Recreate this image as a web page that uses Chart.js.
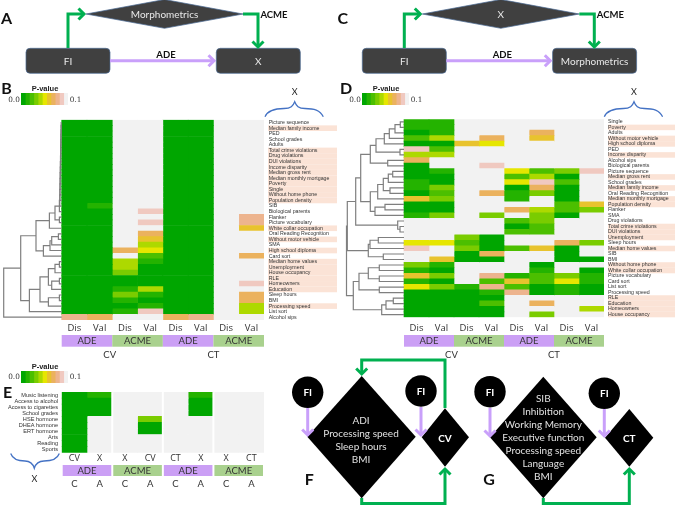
<!DOCTYPE html>
<html>
<head>
<meta charset="utf-8">
<script src="https://cdn.jsdelivr.net/npm/chart.js@4"></script>
<style>
  html, body { margin: 0; background: #fff; overflow: hidden; }
  #page { position: relative; width: 675px; height: 506px; filter: blur(0.3px); }
  canvas, svg { position: absolute; }
  text { font-family: Lato, sans-serif; }
</style>
</head>
<body>
<div id="page">
  <svg id="schema" width="675" height="506" style="left:0;top:0"></svg>
  <canvas id="heatB" width="337" height="250" style="left:0;top:112px"></canvas>
  <canvas id="heatD" width="335" height="250" style="left:340px;top:112px"></canvas>
  <canvas id="heatE" width="270" height="105" style="left:0;top:385px"></canvas>
  <canvas id="legendB" width="47" height="12" style="left:21px;top:93px"></canvas>
  <canvas id="legendD" width="47" height="12" style="left:362px;top:93px"></canvas>
  <canvas id="legendE" width="47" height="12" style="left:21px;top:371px"></canvas>
</div>
<script>
// terrain palette, index = P-value x 100 (10 = not significant)
const terrain = ['#00A600', '#24B300', '#4CBF00', '#7ACC00', '#ADD900', '#E6E600',
                 '#E8C32E', '#EBB25E', '#EDB48E', '#F0C9C0', '#F2F2F2'];
const peach = '#FBE3D6';

const stripLabels = ['ADE', 'ACME', 'ADE', 'ACME'];
const columnsBD = ['Dis', 'Val', 'Dis', 'Val', 'Dis', 'Val', 'Dis', 'Val'];
const columnsE = ['CV', 'X', 'X', 'CV', 'CT', 'X', 'X', 'CT'];
const underBD = [['CV', 1.9], ['CT', 6]];
const underE = [['C', .5], ['A', 1.5], ['C', 2.5], ['A', 3.5], ['C', 4.5], ['A', 5.5], ['C', 6.5], ['A', 7.5]];

// panel B
const rowsB = ['Picture sequence', 'Median family income', 'PED', 'School grades', 'Adults',
  'Total crime violations', 'Drug violations', 'DUI violations', 'Income disparity', 'Median gross rent',
  'Median monthly mortgage', 'Poverty', 'Single', 'Without home phone', 'Population density', 'SIB',
  'Biological parents', 'Flanker', 'Picture vocabulary', 'White collar occupation',
  'Oral Reading Recognition', 'Without motor vehicle', 'SMA', 'High school diploma', 'Card sort',
  'Median home values', 'Unemployment', 'House occupancy', 'RLE', 'Homeowners', 'Education',
  'Sleep hours', 'BMI', 'Processing speed', 'List sort', 'Alcohol sips'];
const pB = [
  [0,0,10,10,0,0,10,10], [0,0,10,10,0,0,10,10], [0,0,10,10,0,0,10,10], [0,0,10,10,0,0,10,10],
  [0,0,10,10,0,0,10,10], [0,0,10,10,0,0,10,10], [0,0,10,10,0,0,10,10], [0,0,10,10,0,0,10,10],
  [0,0,10,10,0,0,10,10], [0,0,10,10,0,0,10,10], [0,0,10,10,0,0,10,10], [0,0,10,10,0,0,10,10],
  [0,0,10,10,0,0,10,10], [0,0,10,10,0,0,10,10], [0,0,10,10,0,0,10,10], [0,1,10,10,0,0,10,10],
  [0,0,10,9,0,0,10,10], [0,0,10,10,0,0,10,8], [0,0,10,9,0,0,10,8], [0,0,10,10,0,0,10,6],
  [0,0,10,7,0,0,10,10], [0,0,10,6,0,0,10,10], [0,0,10,4,0,0,10,10], [0,0,7,5,0,0,10,10],
  [0,0,10,2,0,0,10,7], [0,0,4,1,0,0,10,10], [0,0,4,0,0,0,10,10], [0,0,3,0,0,0,10,10],
  [0,0,0,0,0,0,10,10], [0,0,0,0,0,0,10,9], [0,0,1,4,0,0,10,10], [0,0,3,1,0,0,10,7],
  [0,0,1,0,0,0,10,7], [0,0,0,1,0,0,10,4], [0,0,1,9,0,0,10,4], [8,7,10,10,7,8,10,10]];
const shadedB = ['Median family income', 'Total crime violations', 'Drug violations', 'DUI violations',
  'Income disparity', 'Median gross rent', 'Median monthly mortgage', 'Poverty', 'Single',
  'Without home phone', 'Population density', 'White collar occupation', 'Without motor vehicle',
  'High school diploma', 'Median home values', 'Unemployment', 'House occupancy', 'RLE', 'Homeowners',
  'Education', 'Processing speed'];
// [merge distance, child, child]; a number is a row index
const treeB = [58,
  [41,
    [25.7,
      [12.3,
        [6.7,
          [2.3, [1.9, [1.8, [1.7, [1.6, [1.5, [1.4, [1.3, [1.2, [1.1, [1, [.9, [.8, [.7, [.6, [.5, 0, 1], 2], 3], 4], 5], 6], 7], 8], 9], 10], 11], 12], 13], 14], 15], 16],
          [2.3, 17, 18]],
        19],
      [18.3, [11.7, [10, [3.3, 20, 21], 22], 23], 24]],
    [32.3,
      [21.7,
        [13.3,
          [6.7, [2.3, 25, 26], 27],
          [10, [2.3, 28, 29], 30]],
        [13.3, [2.3, 31, 32], 33]],
      34]],
  35];

// panel D
const rowsD = ['Single', 'Poverty', 'Adults', 'Without motor vehicle', 'High school diploma', 'PED',
  'Income disparity', 'Alcohol sips', 'Biological parents', 'Picture sequence', 'Median gross rent',
  'School grades', 'Median family income', 'Oral Reading Recognition', 'Median monthly mortgage',
  'Population density', 'Flanker', 'SMA', 'Drug violations', 'Total crime violations', 'DUI violations',
  'Unemployment', 'Sleep hours', 'Median home values', 'SIB', 'BMI', 'Without home phone',
  'White collar occupation', 'Picture vocabulary', 'Card sort', 'List sort', 'Processing speed', 'RLE',
  'Education', 'Homeowners', 'House occupancy'];
const pD = [
  [1,1,10,10,10,10,10,10], [1,1,10,10,10,10,10,10], [0,1,10,10,10,7,10,10], [2,4,10,7,10,6,10,10],
  [0,0,6,5,10,10,10,10], [9,2,10,10,10,10,10,10], [4,4,10,10,10,10,10,10], [7,10,10,10,10,10,10,10],
  [0,10,10,9,10,10,10,10], [0,1,10,10,5,2,3,9], [0,0,10,10,2,4,0,10], [1,0,10,10,5,9,2,10],
  [1,3,10,10,0,7,0,10], [0,2,10,7,1,3,0,10], [6,3,10,10,1,10,0,10], [0,0,10,10,10,10,2,6],
  [0,0,10,10,7,4,2,3], [1,3,10,3,10,3,0,10], [10,10,10,10,2,3,10,10], [10,10,10,10,0,2,10,10],
  [10,10,10,10,2,2,10,10], [10,10,3,0,10,10,10,10], [5,5,2,0,10,10,7,3], [9,10,3,0,2,6,0,10],
  [10,10,0,7,10,10,0,10], [10,6,0,0,10,10,0,0], [3,1,10,10,10,0,10,10], [1,0,10,10,10,1,10,0],
  [6,3,10,8,1,2,3,1], [1,0,10,2,6,2,5,1], [5,3,1,8,2,0,1,0], [0,0,0,1,8,0,1,0],
  [0,0,0,0,10,10,10,10], [0,0,0,2,10,7,10,10], [0,0,0,0,10,10,10,4], [0,0,0,0,10,3,10,10]];
const shadedD = ['Poverty', 'Without motor vehicle', 'High school diploma', 'Income disparity',
  'Median gross rent', 'Median family income', 'Median monthly mortgage', 'Population density',
  'Total crime violations', 'DUI violations', 'Unemployment', 'Median home values', 'Without home phone',
  'White collar occupation', 'RLE', 'Education', 'Homeowners', 'House occupancy'];
const treeD = [57.5,
  [56.7,
    [48.3,
      [43.3,
        [33.7,
          [28, [19.7, [14.7, [9, [3.7, 0, 1], 2], 3], 4], [4, 5, 6]],
          [16.3, 7, 8]],
        [33.7,
          [26.3, [20.7, [15.7, [11.3, 9, 10], 11], [14, 12, 13]], 14],
          [29, [19, 15, 16], 17]]],
      [6.3, 18, [4, 19, 20]]],
    [35.7, [34, [25.7, 21, 22], 23], [20.7, 24, 25]]],
  [50.7,
    [45, [35.7, [24.7, 26, 27], [24.7, 28, 29]], [24.7, 30, 31]],
    [22.3, [18, [10.7, 32, 33], 34], 35]]];

// panel E
const rowsE = ['Music listening', 'Access to alcohol', 'Access to cigarettes', 'School grades', 'HSE hormone',
  'DHEA hormone', 'ERT hormone', 'Arts', 'Reading', 'Sports'];
const pE = [
  [0,1,10,10,10,1,10,10], [0,0,10,10,10,0,10,10], [0,0,10,10,10,0,10,10], [0,0,10,10,10,0,10,10],
  [0,10,10,3,10,10,10,10], [0,10,10,0,10,10,10,10], [0,10,10,0,10,10,10,10], [0,10,10,10,10,10,10,10],
  [0,10,10,10,10,10,10,10], [0,10,10,10,10,10,10,10]];

function drawTree(chart, node, colW) {
  const ctx = chart.ctx, x = chart.scales.x, y = chart.scales.y;
  if (typeof node === 'number') return { x: x.getPixelForValue(0), y: y.getPixelForValue(node) };
  const a = drawTree(chart, node[1], colW), b = drawTree(chart, node[2], colW);
  const px = x.getPixelForValue(-node[0] / colW), py = (a.y + b.y) / 2;
  ctx.beginPath();
  ctx.moveTo(a.x, a.y);
  ctx.lineTo(px, a.y);
  ctx.lineTo(px, b.y);
  ctx.lineTo(b.x, b.y);
  ctx.stroke();
  return { x: px, y: py };
}

function heatmap(id, o) {
  const canvas = document.getElementById(id);
  const plotW = canvas.width - o.axisW - (o.padRight || 0);
  const colW = (plotW - o.treeW) / 8;
  const rowH = o.plotH / o.rows.length;
  const extras = {
    id: 'extras',
    beforeDraw(chart) {
      const ctx = chart.ctx, x = chart.scales.x, y = chart.scales.y;
      ctx.save();
      ctx.fillStyle = peach;
      (o.shaded || []).forEach(name => {
        const c = y.getPixelForValue(o.rows.indexOf(name));
        ctx.fillRect(x.right + 4, c - rowH / 2, canvas.width - x.right - 4, rowH);
      });
      ctx.restore();
    },
    afterDatasetsDraw(chart) {
      const ctx = chart.ctx, x = chart.scales.x;
      ctx.save();
      if (o.gap) {
        ctx.fillStyle = '#fff';
        [2, 4, 6].forEach(v => ctx.fillRect(x.getPixelForValue(v) - o.gap / 2, chart.chartArea.top, o.gap, o.plotH));
      }
      if (o.tree) {
        ctx.strokeStyle = '#7f7f7f';
        ctx.lineWidth = 1.2;
        drawTree(chart, o.tree, colW);
      }
      stripLabels.forEach((t, i) => {
        const l = x.getPixelForValue(i * 2), r = x.getPixelForValue(i * 2 + 2);
        ctx.fillStyle = t === 'ADE' ? '#CB9FF5' : '#A9D18E';
        ctx.fillRect(l + (o.gap ? 1 : 0), o.stripY, r - l - (o.gap ? 2 : 0), o.stripH);
        ctx.fillStyle = '#333';
        ctx.font = '9.5px Lato';
        ctx.textAlign = 'center';
        ctx.textBaseline = 'middle';
        ctx.fillText(t, (l + r) / 2, o.stripY + o.stripH / 2);
      });
      ctx.font = '9.5px Lato';
      o.under.forEach(u => ctx.fillText(u[0], x.getPixelForValue(u[1]), o.underY));
      ctx.restore();
    }
  };
  return new Chart(canvas, {
    type: 'bar',
    data: {
      labels: o.rows,
      datasets: o.columns.map((c, j) => ({
        label: c + ' ' + j,
        data: o.rows.map(() => 1),
        backgroundColor: o.p.map(row => terrain[row[j]]),
        barPercentage: 1,
        categoryPercentage: 1
      }))
    },
    options: {
      indexAxis: 'y',
      responsive: false,
      animation: false,
      layout: { padding: { top: o.plotTop, right: o.padRight || 0 } },
      plugins: { legend: { display: false }, tooltip: { enabled: false } },
      scales: {
        x: {
          type: 'linear',
          stacked: true,
          min: -o.treeW / colW,
          max: 8,
          grid: { display: false, drawTicks: false },
          border: { display: false },
          afterBuildTicks(s) { s.ticks = o.columns.map((c, j) => ({ value: j + .5 })); },
          afterFit(s) { s.height = canvas.height - o.plotTop - o.plotH; },
          ticks: {
            autoSkip: false,
            maxRotation: 0,
            padding: o.tickPad,
            color: '#333',
            font: { family: 'Open Sans', size: o.tickSize },
            callback: (v) => o.columns[Math.floor(v)]
          }
        },
        y: {
          type: 'category',
          stacked: true,
          position: o.axisPos,
          grid: { display: false, drawTicks: false },
          border: { display: false },
          afterFit(s) { s.width = o.axisW; },
          ticks: {
            autoSkip: false,
            padding: o.labelPad,
            color: '#333',
            font: { family: 'Liberation Sans', size: o.labelSize }
          }
        }
      }
    },
    plugins: [extras]
  });
}

heatmap('heatB', { rows: rowsB, p: pB, columns: columnsBD, shaded: shadedB, tree: treeB, under: underBD,
  axisPos: 'right', axisW: 73, treeW: 61.7, plotTop: 5.3, plotH: 202.7, tickPad: 3, tickSize: 9.5,
  labelPad: 4.7, labelSize: 5.25, stripY: 223, stripH: 11.7, underY: 243 });
heatmap('heatD', { rows: rowsD, p: pD, columns: columnsBD, shaded: shadedD, tree: treeD, under: underBD,
  axisPos: 'right', axisW: 71, treeW: 64, plotTop: 5.3, plotH: 200, tickPad: 5, tickSize: 9.5,
  labelPad: 4, labelSize: 5.25, stripY: 223, stripH: 11.7, underY: 243 });
heatmap('heatE', { rows: rowsE, p: pE, columns: columnsE, under: underE, gap: 2,
  axisPos: 'left', axisW: 61.7, treeW: 0, padRight: 6, plotTop: 5, plotH: 62.7, tickPad: 0, tickSize: 9,
  labelPad: 3.7, labelSize: 5.6, stripY: 80, stripH: 11, underY: 99 });

function legendBar(id) {
  new Chart(document.getElementById(id), {
    type: 'bar',
    data: {
      labels: ['P-value'],
      datasets: terrain.map((c, i) => ({ label: String(i), data: [1], backgroundColor: c,
        barPercentage: 1, categoryPercentage: 1 }))
    },
    options: {
      indexAxis: 'y',
      responsive: false,
      animation: false,
      plugins: { legend: { display: false }, tooltip: { enabled: false } },
      scales: {
        x: { display: false, stacked: true, min: 0, max: terrain.length },
        y: { display: false, stacked: true }
      }
    }
  });
}
['legendB', 'legendD', 'legendE'].forEach(legendBar);

// flow schematics and annotations
const svg = document.getElementById('schema');
function add(tag, attrs, text, parent) {
  const el = document.createElementNS('http://www.w3.org/2000/svg', tag);
  Object.keys(attrs).forEach(k => el.setAttribute(k, attrs[k]));
  if (text) el.textContent = text;
  (parent || svg).appendChild(el);
  return el;
}
function label(x, y, t, size, fill, weight, family, parent) {
  const attrs = { x: x, y: y, 'text-anchor': 'middle', 'dominant-baseline': 'central', fill: fill || '#111',
    'font-size': size, 'font-weight': weight || 'normal' };
  if (family) attrs.style = 'font-family:' + family;
  return add('text', attrs, t, parent);
}
function arrow(pts, color, parent) {
  add('polyline', { points: pts.map(p => p.join(',')).join(' '), fill: 'none', stroke: color, 'stroke-width': 3 }, null, parent);
  const e = pts[pts.length - 1], s = pts[pts.length - 2];
  const dx = Math.sign(e[0] - s[0]), dy = Math.sign(e[1] - s[1]), k = 5.5;
  const a = [e[0] - dx * k - dy * k, e[1] - dy * k - dx * k], b = [e[0] - dx * k + dy * k, e[1] - dy * k + dx * k];
  add('polyline', { points: [a, e, b].map(p => p.join(',')).join(' '), fill: 'none', stroke: color, 'stroke-width': 3 }, null, parent);
}
const green = '#00B050', purple = '#C9A0FA';
function flow(dx, letter, middle, target) {
  const g = add('g', { transform: 'translate(' + dx + ',0)' });
  [[26, 'FI'], [216.3, target]].forEach(b => {
    add('rect', { x: b[0], y: 48.3, width: 84, height: 25, rx: 4, fill: '#404040', stroke: '#4A6A94', 'stroke-width': .7 }, null, g);
    label(b[0] + 42, 60.8, b[1], 10, '#e8e8e8', null, null, g);
  });
  add('polygon', { points: '86,14 164.5,-.5 243,14 164.5,28.3', fill: '#404040', stroke: '#4A6A94', 'stroke-width': .7 }, null, g);
  label(164.5, 14.3, middle, 10, '#e8e8e8', null, null, g);
  arrow([[68, 48], [68, 14], [84, 14]], green, g);
  arrow([[243, 14], [258, 14], [258, 47]], green, g);
  arrow([[110, 60.7], [214, 60.7]], purple, g);
  label(166, 54, 'ADE', 9.5, '#111', 'bold', null, g);
  label(274, 14.5, 'ACME', 9.5, '#111', 'bold', null, g);
  label(6.5, 17, letter, 16, '#111', 'bold', null, g);
}
flow(0, 'A', 'Morphometrics', 'X');
flow(336.3, 'C', 'X', 'Morphometrics');

label(6.5, 87, 'B', 16, '#111', 'bold');
label(346, 87, 'D', 16, '#111', 'bold');
label(7.5, 391, 'E', 16, '#111', 'bold');

[[45, 88.7, 14, 26, 74], [386, 88.7, 355, 367, 415], [45, 366, 14, 26, 74]].forEach(l => {
  label(l[0], l[1], 'P-value', 7.5, '#222', 'bold', 'Liberation Sans');
  const y = l[1] + 10.3;
  label(l[2], y, '0.0', 7.3, '#333', null, 'DejaVu Serif');
  label(l[4] + 1.5, y, '0.1', 7.3, '#333', null, 'DejaVu Serif');
});

[0, 339.3].forEach(dx => {
  add('path', { d: 'M265 116.7 C268 110 276 108.5 284 108.5 C291 108.5 293 106 294.7 101.7 C296.4 106 298.4 108.5 305 108.5 C314 108.5 320 110 323.3 116.7',
    fill: 'none', stroke: '#4472C4', 'stroke-width': 1.3, transform: 'translate(' + dx + ',0)' });
  label(294.7 + dx, 91.7, 'X', 9, '#222', null, 'Lato');
});
add('path', { d: 'M10.7 453.5 C13 460 19 461 25 461 C31 461 33 464 34.3 468.3 C35.6 464 38 461 44 461 C51 461 57 460 59.3 453.5',
  fill: 'none', stroke: '#4472C4', 'stroke-width': 1.3 });
label(34.3, 478, 'X', 9, '#222');

// panel F
add('polygon', { points: '361.7,376 415.7,436.7 361.7,498.3 307.3,436.7', fill: '#000' });
add('polygon', { points: '445,408.3 469,437.3 445,466.7 421.7,437.3', fill: '#000' });
[[307.7, 392.3], [421, 391]].forEach(c => {
  add('circle', { cx: c[0], cy: c[1], r: 15.7, fill: '#000' });
  label(c[0], c[1], 'FI', 10, '#fff', 'bold');
});
label(445, 437.5, 'CV', 10, '#fff', 'bold');
['ADI', 'Processing speed', 'Sleep hours', 'BMI'].forEach((t, i) => label(361, 419.7 + i * 13, t, 10, '#e0e0e0'));
arrow([[307.7, 408], [307.7, 435]], purple);
arrow([[421, 407], [421, 435]], purple);
arrow([[445, 408], [445, 360], [361.7, 360], [361.7, 374]], green);
arrow([[361.7, 498], [361.7, 503.5], [445, 503.5], [445, 469]], green);
label(309.3, 478.3, 'F', 16, '#111', 'bold');

// panel G
add('polygon', { points: '543.3,376.7 596.7,437.3 543.3,498.3 490,437.3', fill: '#000' });
add('polygon', { points: '629.3,409 653.3,437.7 629.3,466.7 605,437.7', fill: '#000' });
[[490, 391.7], [604.3, 393.3]].forEach(c => {
  add('circle', { cx: c[0], cy: c[1], r: 15.7, fill: '#000' });
  label(c[0], c[1], 'FI', 10, '#fff', 'bold');
});
label(629.3, 437.8, 'CT', 10, '#fff', 'bold');
['SIB', 'Inhibition', 'Working Memory', 'Executive function', 'Processing speed', 'Language', 'BMI']
  .forEach((t, i) => label(543.3, 397.7 + i * 13, t, 10, '#e0e0e0'));
arrow([[490, 408], [490, 436]], purple);
arrow([[604.3, 409], [604.3, 436]], purple);
arrow([[543.3, 498], [543.3, 503.5], [629.3, 503.5], [629.3, 469]], green);
label(489, 478.3, 'G', 16, '#111', 'bold');
</script>
</body>
</html>
